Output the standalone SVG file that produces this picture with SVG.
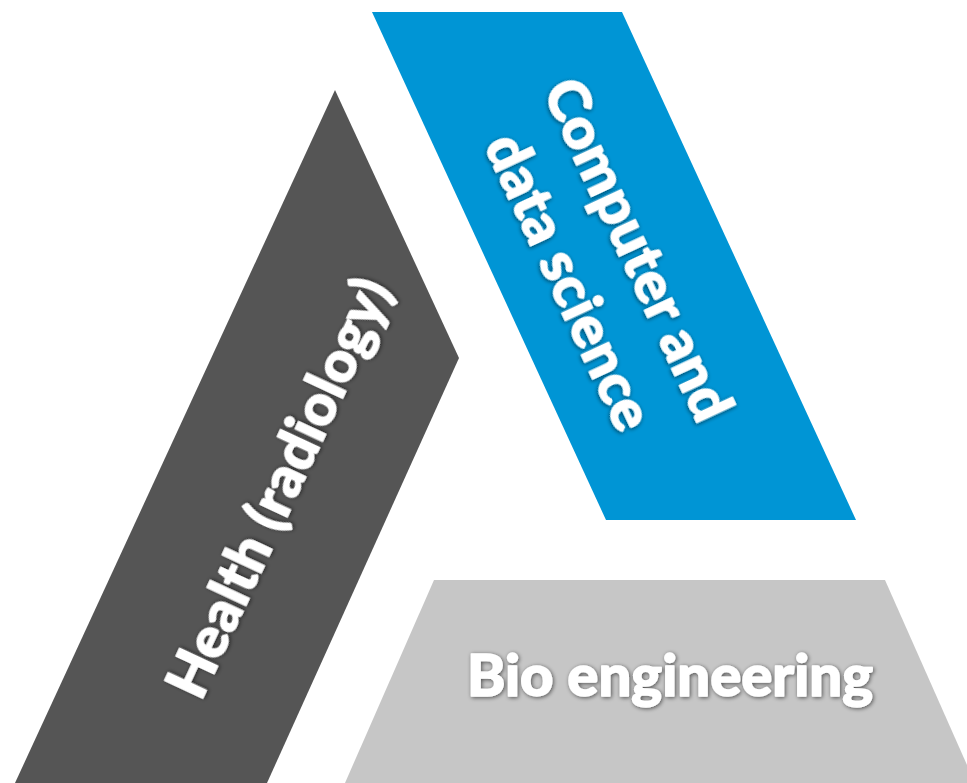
<svg xmlns="http://www.w3.org/2000/svg" width="967" height="783" viewBox="0 0 967 783">
  <defs>
    <filter id="glow" x="-10%" y="-30%" width="120%" height="160%">
      <feGaussianBlur in="SourceAlpha" stdDeviation="2.2" result="b"/>
      <feOffset in="b" dx="1" dy="1" result="o"/>
      <feComponentTransfer in="o" result="s">
        <feFuncA type="linear" slope="0.6"/>
      </feComponentTransfer>
      <feMerge>
        <feMergeNode in="s"/>
        <feMergeNode in="SourceGraphic"/>
      </feMerge>
    </filter>
  </defs>
  <style>
    .lbl { font-family: Lato, "Open Sans", "Liberation Sans", sans-serif; font-weight: 900; font-size: 58px; fill: #ffffff; stroke: #ffffff; stroke-width: 1.4; stroke-linejoin: round; text-anchor: middle; filter: url(#glow); }
  </style>
  <rect width="967" height="783" fill="#ffffff"/>

  <g id="health">
    <polygon points="335,90 459,358 267,783 15,783" fill="#555555"/>
    <g transform="translate(297,496) rotate(-65)">
      <text class="lbl" x="0" y="0" textLength="455" lengthAdjust="spacingAndGlyphs">Health (radiology)</text>
    </g>
  </g>

  <g id="computer">
    <polygon points="372,12 622,12 856,520 606,520" fill="#0095D5"/>
    <g transform="translate(620,258) rotate(65)">
      <text class="lbl" x="0" y="0" textLength="370" lengthAdjust="spacingAndGlyphs">Computer and</text>
      <text class="lbl" x="0" y="76" textLength="320" lengthAdjust="spacingAndGlyphs">data science</text>
    </g>
  </g>

  <g id="bio">
    <polygon points="434,580 885,580 975,783 345,783" fill="#C6C6C6"/>
    <text class="lbl" x="670" y="696" textLength="406" lengthAdjust="spacingAndGlyphs">Bio engineering</text>
  </g>

  <g id="connectors"/>
</svg>
